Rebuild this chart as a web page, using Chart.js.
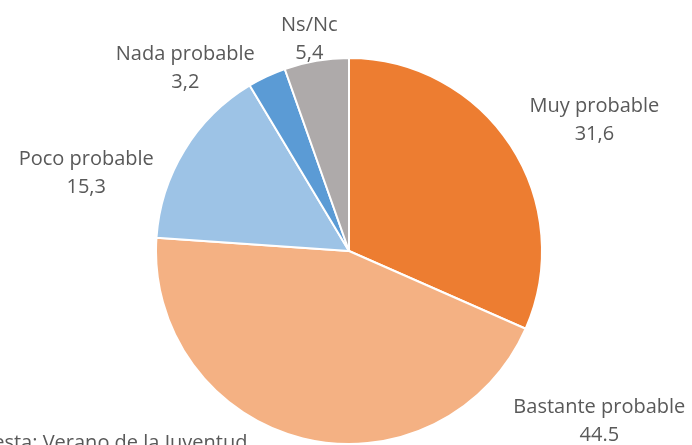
<!DOCTYPE html>
<html lang="es">
<head>
    <meta charset="UTF-8">
    <title>Probabilidad</title>
    <script src="https://cdn.jsdelivr.net/npm/chart.js"></script>
    <style>
        html, body { margin: 0; padding: 0; background: #fff; }
        #wrap { width: 692px; height: 445px; position: relative; overflow: hidden; }
    </style>
</head>
<body>
<div id="wrap"><canvas id="pieChart" width="692" height="445"></canvas></div>
<script>
    // Data
    const categories = ['Muy probable', 'Bastante probable', 'Poco probable', 'Nada probable', 'Ns/Nc'];
    const values = [31.6, 44.5, 15.3, 3.2, 5.4];
    const valueLabels = ['31,6', '44.5', '15,3', '3,2', '5,4'];
    const sliceColors = ['#ED7D31', '#F4B183', '#9DC3E6', '#5B9BD5', '#AEAAAA'];
    const footnote = 'Encuesta: Verano de la Juventud';

    // label placement: angle from 12 o'clock (deg) and distance as a factor of the radius
    const labelAngles = [62, 124.3, -73.5, -41.9, -10.6];
    const labelDist = [1.44, 1.57, 1.42, 1.27, 1.117];

    const labelPlugin = {
        id: 'outerLabels',
        afterDatasetsDraw(chart) {
            const ctx = chart.ctx;
            const arc = chart.getDatasetMeta(0).data[0];
            const cx = arc.x, cy = arc.y, r = arc.outerRadius;
            ctx.save();
            ctx.font = '20px "Open Sans"';
            ctx.fillStyle = '#595959';
            ctx.textAlign = 'center';
            ctx.textBaseline = 'middle';
            categories.forEach((name, i) => {
                const a = labelAngles[i] * Math.PI / 180;
                const x = cx + Math.sin(a) * r * labelDist[i];
                const y = cy - Math.cos(a) * r * labelDist[i];
                ctx.fillText(name, x, y - 14);
                ctx.fillText(valueLabels[i], x, y + 14);
            });
            // footnote, partly cut off by the bottom edge
            ctx.textAlign = 'left';
            ctx.textBaseline = 'alphabetic';
            ctx.fillText(footnote, -52, 449);
            ctx.restore();
        }
    };

    const ctx = document.getElementById('pieChart').getContext('2d');
    new Chart(ctx, {
        type: 'pie',
        data: {
            labels: categories,
            datasets: [{
                data: values,
                backgroundColor: sliceColors,
                borderColor: '#ffffff',
                borderWidth: 2
            }]
        },
        options: {
            responsive: false,
            animation: false,
            layout: { padding: { top: 57, bottom: 0, left: 155, right: 149 } },
            plugins: {
                legend: { display: false },
                tooltip: { enabled: false }
            }
        },
        plugins: [labelPlugin]
    });
</script>
</body>
</html>
